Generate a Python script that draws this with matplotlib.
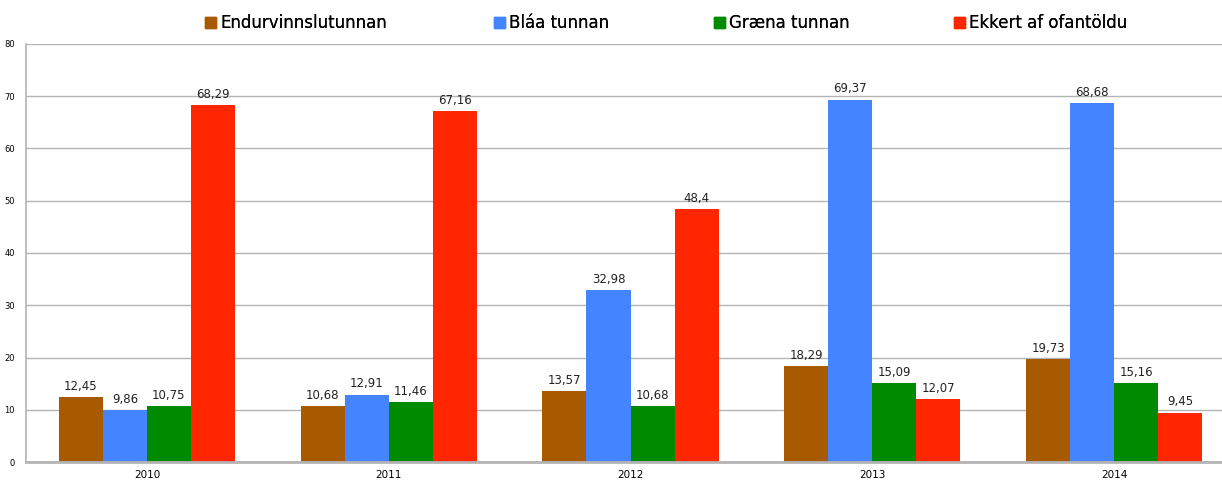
import numpy as np
import matplotlib.pyplot as plt
from matplotlib.patches import Patch

years = ['2010', '2011', '2012', '2013', '2014']
series_names = ['Endurvinnslutunnan', 'Bláa tunnan', 'Græna tunnan', 'Ekkert af ofantöldu']
endurvinnsla = [12.45, 10.68, 13.57, 18.29, 19.73]
blaa = [9.86, 12.91, 32.98, 69.37, 68.68]
graena = [10.75, 11.46, 10.68, 15.09, 15.16]
ekkert = [68.29, 67.16, 48.4, 12.07, 9.45]
colors = ['#a85a00', '#4485ff', '#008a00', '#ff2600']
y_ticks = [0, 10, 20, 30, 40, 50, 60, 70, 80]

W, H = 1222, 480
fig = plt.figure(figsize=(W / 100, H / 100), dpi=100)

# axis spans x 26..1235 px (cut off on the right), y 44..462 px
left, right, top, bottom = 26, 1235, 44, 462
ax = fig.add_axes([left / W, (H - bottom) / H, (right - left) / W, (bottom - top) / H])

x = np.arange(len(years))
bw = 44 / 241.75
all_series = [endurvinnsla, blaa, graena, ekkert]
for i, vals in enumerate(all_series):
    bars = ax.bar(x + (i - 1.5) * bw, vals, bw, color=colors[i], zorder=3)
    ax.bar_label(bars, labels=[str(v).replace('.', ',') for v in vals],
                 padding=3, fontsize=8.5, color='#222222')

ax.set_xlim(-0.5, 4.5)
ax.set_ylim(0, 80)
ax.set_yticks(y_ticks)
ax.set_xticks(x)
ax.set_xticklabels(years)
ax.tick_params(axis='y', length=0, labelsize=6, pad=8)
ax.tick_params(axis='x', length=0, labelsize=7.5, pad=6)
ax.yaxis.grid(True, color='#b4b4b4', linewidth=1.0, zorder=0)
ax.set_axisbelow(True)
for s in ['top', 'right']:
    ax.spines[s].set_visible(False)
ax.spines['left'].set_color('#b4b4b4')
ax.spines['left'].set_linewidth(1.2)
ax.spines['bottom'].set_color('#b4b4b4')
ax.spines['bottom'].set_linewidth(2)
ax.spines['bottom'].set_zorder(4)

# legend entries at their own positions along the top
leg_x = [205, 494, 714, 954]
for name, c, lx in zip(series_names, colors, leg_x):
    lg = fig.legend(handles=[Patch(color=c)], labels=[name], loc='center left',
                    bbox_to_anchor=(lx / W, 1 - 23 / H), frameon=False,
                    fontsize=12, handlelength=0.65, handleheight=0.65,
                    handletextpad=0.25, borderaxespad=0, borderpad=0)
    fig.add_artist(lg)

fig.savefig('out.png', dpi=100)
